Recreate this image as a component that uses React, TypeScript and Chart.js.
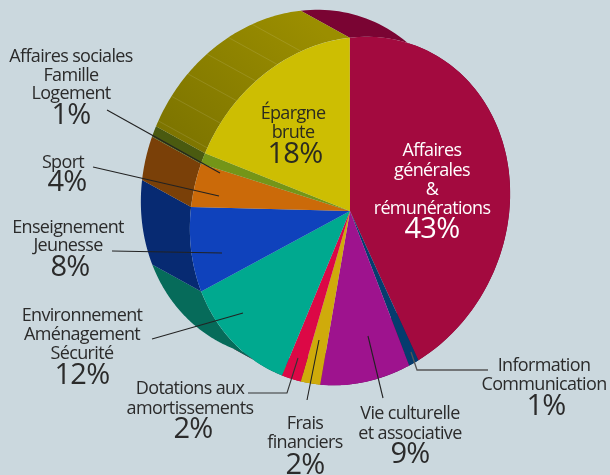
import React, { useEffect, useRef } from "react";
import { Chart, registerables } from "chart.js";

Chart.register(...registerables);

const categories = [
  "Affaires générales & rémunérations",
  "Information Communication",
  "Vie culturelle et associative",
  "Frais financiers",
  "Dotations aux amortissements",
  "Environnement Aménagement Sécurité",
  "Enseignement Jeunesse",
  "Sport",
  "Affaires sociales Famille Logement",
  "Épargne brute",
];
const values = [43, 1, 9, 2, 2, 12, 8, 4, 1, 18];
const faceColors = ["#A30A3F", "#053C6E", "#9E138E", "#CFAB0B", "#DC0846", "#00A98F", "#0F42BC", "#CB6A09", "#749518", "#CDBE02"];
const sideColors = ["#7A0433", "#042C52", "#6E0D63", "#8F7608", "#9A0532", "#066B5A", "#072A72", "#7A4008", "#4A5A10", "olive"];
const labelLines = [
  ["Affaires", "générales", "&", "rémunérations"],
  ["Information", "Communication"],
  ["Vie culturelle", "et associative"],
  ["Frais", "financiers"],
  ["Dotations aux", "amortissements"],
  ["Environnement", "Aménagement", "Sécurité"],
  ["Enseignement", "Jeunesse"],
  ["Sport"],
  ["Affaires sociales", "Famille", "Logement"],
  ["Épargne", "brute"],
];

const BG = "#CBD8DE";
const CENTER = { x: 350, y: 211 };
const AXIS_DEG = 115;
const A = 178;
const B = 156;
const DEPTH = { x: -49, y: -27 };
const START_DEG = 151.9;

type Layout = { cx: number; ys: number[]; pcx: number; py: number; color: string };
const layout: Layout[] = [
  { cx: 432, ys: [151, 171, 190, 209], pcx: 432, py: 230, color: "#FFFFFF" },
  { cx: 544, ys: [366, 385], pcx: 546, py: 407, color: "#2B2B2B" },
  { cx: 410, ys: [414, 434], pcx: 410, py: 455, color: "#2B2B2B" },
  { cx: 305, ys: [424, 443], pcx: 305, py: 466, color: "#2B2B2B" },
  { cx: 190, ys: [389, 409], pcx: 193, py: 430, color: "#2B2B2B" },
  { cx: 82, ys: [316, 335, 354], pcx: 82, py: 376, color: "#2B2B2B" },
  { cx: 68, ys: [228, 246], pcx: 70, py: 268, color: "#2B2B2B" },
  { cx: 63, ys: [163], pcx: 67, py: 183, color: "#2B2B2B" },
  { cx: 71, ys: [57, 76, 94], pcx: 71, py: 116, color: "#2B2B2B" },
  { cx: 293, ys: [114, 133], pcx: 295, py: 155, color: "#2B2B20" },
];
const leaders: { pts: number[][]; color: string; w: number }[] = [
  { pts: [[107, 110], [220, 173]], color: "#222", w: 1.1 },
  { pts: [[93, 167], [219, 196]], color: "#222", w: 1.1 },
  { pts: [[112, 251], [222, 253]], color: "#222", w: 1.1 },
  { pts: [[152, 339], [243, 313]], color: "#222", w: 1.1 },
  { pts: [[248, 393], [287, 393], [298, 358]], color: "#333", w: 1.1 },
  { pts: [[319, 340], [307, 400]], color: "#222", w: 1.1 },
  { pts: [[368, 336], [383, 398]], color: "#222", w: 1.1 },
  { pts: [[411, 352], [417, 370], [488, 370]], color: "#555", w: 1.3 },
];
const facetDegs = [134.2, 125, 116, 107, 98, 89];

const rimPoint = (angle: number, k: number) => {
  const t = (AXIS_DEG * Math.PI) / 180;
  const lx = A * Math.cos(angle);
  const ly = B * Math.sin(angle);
  return {
    x: CENTER.x + lx * Math.cos(t) - ly * Math.sin(t) + k * DEPTH.x,
    y: CENTER.y + lx * Math.sin(t) + ly * Math.cos(t) + k * DEPTH.y,
  };
};

const discPlugin = {
  id: "disc",
  beforeDatasetsDraw(chart: any) {
    const ctx = chart.ctx;
    const arcs = chart.getDatasetMeta(0).data;
    arcs.forEach((arc: any, i: number) => {
      const pts: { x: number; y: number }[] = [];
      const steps = 90;
      for (let s = 0; s <= steps; s++) {
        pts.push(rimPoint(arc.startAngle + ((arc.endAngle - arc.startAngle) * s) / steps, 0));
      }
      for (let s = steps; s >= 0; s--) {
        pts.push(rimPoint(arc.startAngle + ((arc.endAngle - arc.startAngle) * s) / steps, 1));
      }
      ctx.beginPath();
      pts.forEach((p, n) => (n ? ctx.lineTo(p.x, p.y) : ctx.moveTo(p.x, p.y)));
      ctx.closePath();
      if (sideColors[i] === "olive") {
        const g = ctx.createLinearGradient(300, 10, 160, 160);
        g.addColorStop(0, "#9B8E00");
        g.addColorStop(1, "#797100");
        ctx.fillStyle = g;
      } else {
        ctx.fillStyle = sideColors[i];
      }
      ctx.fill();
    });
    ctx.strokeStyle = "rgba(255,255,255,0.14)";
    ctx.lineWidth = 0.8;
    facetDegs.forEach((d) => {
      const r = (d * Math.PI) / 180;
      const p = rimPoint(r, 0);
      const q = rimPoint(r, 1);
      ctx.beginPath();
      ctx.moveTo(p.x, p.y);
      ctx.lineTo(q.x, q.y);
      ctx.stroke();
    });
    const arc0 = arcs[0];
    ctx.save();
    ctx.translate(CENTER.x, CENTER.y);
    ctx.rotate((AXIS_DEG * Math.PI) / 180);
    ctx.scale(A / arc0.outerRadius, B / arc0.outerRadius);
    ctx.translate(-arc0.x, -arc0.y);
  },
  afterDatasetsDraw(chart: any) {
    const ctx = chart.ctx;
    ctx.restore();
    leaders.forEach((l) => {
      ctx.beginPath();
      l.pts.forEach((p, n) => (n ? ctx.lineTo(p[0], p[1]) : ctx.moveTo(p[0], p[1])));
      ctx.strokeStyle = l.color;
      ctx.lineWidth = l.w;
      ctx.stroke();
    });
    ctx.textAlign = "center";
    ctx.textBaseline = "middle";
    labelLines.forEach((lines, i) => {
      const a = layout[i];
      ctx.fillStyle = a.color;
      ctx.font = '400 18px "Open Sans"';
      (ctx as any).letterSpacing = "-0.65px";
      lines.forEach((t, n) => ctx.fillText(t, a.cx, a.ys[n]));
      ctx.font = '400 29px "Open Sans"';
      (ctx as any).letterSpacing = "-0.7px";
      ctx.fillText(`${values[i]}%`, a.pcx, a.py);
    });
  },
};

export default function App() {
  const ref = useRef<HTMLCanvasElement>(null);
  useEffect(() => {
    document.body.style.margin = "0";
    document.body.style.background = BG;
    const chart = new Chart(ref.current!, {
      type: "pie",
      data: {
        labels: categories,
        datasets: [
          {
            data: values,
            backgroundColor: faceColors,
            borderWidth: 0,
            clip: false,
          } as any,
        ],
      },
      options: {
        animation: false,
        responsive: false,
        radius: 100,
        rotation: START_DEG + 90,
        layout: { padding: 0 },
        plugins: { legend: { display: false }, tooltip: { enabled: false } },
      } as any,
      plugins: [discPlugin],
    });
    return () => chart.destroy();
  }, []);
  return (
    <canvas
      ref={ref}
      width={610}
      height={475}
      style={{ display: "block", width: 610, height: 475, background: BG }}
    />
  );
}
